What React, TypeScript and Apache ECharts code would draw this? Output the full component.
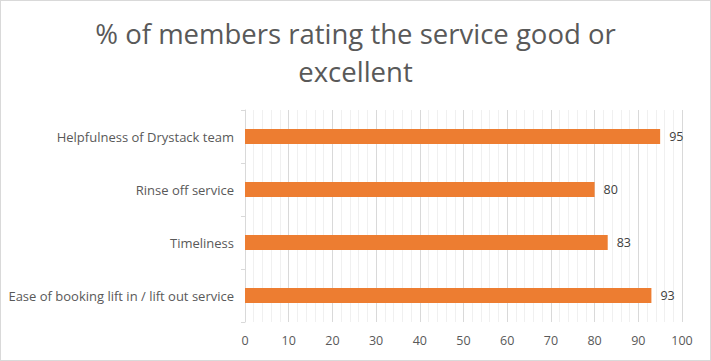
import React, { useEffect, useRef } from "react";
import * as echarts from "echarts";

const categories = [
  "Ease of booking lift in / lift out service",
  "Timeliness",
  "Rinse off service",
  "Helpfulness of Drystack team",
];
const values = [93, 83, 80, 95];
const titleText = "% of members rating the service good or\nexcellent";

export default function App() {
  const ref = useRef<HTMLDivElement>(null);
  useEffect(() => {
    document.body.style.margin = "0";
    const chart = echarts.init(ref.current!, undefined, { renderer: "svg" });
    const font = "Open Sans";
    chart.setOption({
      animation: false,
      title: {
        text: titleText,
        left: "center",
        top: 8,
        textStyle: {
          fontFamily: font,
          fontSize: 27.5,
          fontWeight: "normal",
          color: "#595959",
          lineHeight: 38,
        },
      },
      grid: { left: 244, right: 28, top: 109, bottom: 38 },
      xAxis: {
        type: "value",
        min: 0,
        max: 100,
        interval: 10,
        axisLine: { show: false },
        axisTick: { show: false },
        axisLabel: { color: "#595959", fontFamily: font, fontSize: 12.5, margin: 12 },
        splitLine: { show: true, lineStyle: { color: "#d9d9d9", width: 1 } },
        minorTick: { show: false, splitNumber: 5 },
        minorSplitLine: { show: true, lineStyle: { color: "#f0f0f0", width: 1 } },
      },
      yAxis: {
        type: "category",
        data: categories,
        axisLine: { show: true, lineStyle: { color: "#d9d9d9" } },
        axisTick: { show: true, length: 4, lineStyle: { color: "#d9d9d9" } },
        axisLabel: { color: "#595959", fontFamily: font, fontSize: 13, margin: 11 },
      },
      series: [
        {
          type: "bar",
          data: values,
          barWidth: 15,
          itemStyle: { color: "#ed7d31" },
          label: {
            show: true,
            position: "right",
            distance: 9,
            color: "#404040",
            fontFamily: font,
            fontSize: 12.5,
          },
        },
      ],
    });
    return () => chart.dispose();
  }, []);
  return (
    <div
      ref={ref}
      style={{
        width: 711,
        height: 361,
        boxSizing: "border-box",
        border: "1px solid #d9d9d9",
        background: "#fff",
      }}
    />
  );
}
